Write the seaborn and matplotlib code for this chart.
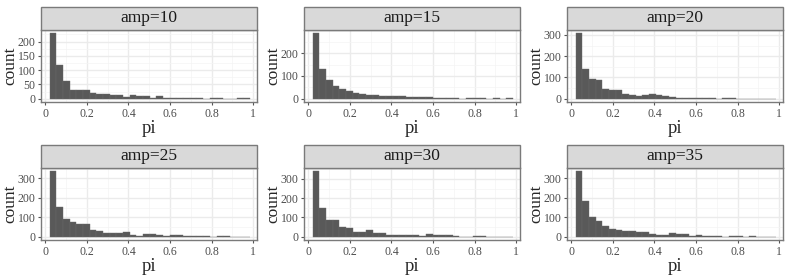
import numpy as np
import pandas as pd
import matplotlib
matplotlib.use("Agg")
import matplotlib.pyplot as plt
from matplotlib.patches import Rectangle
import seaborn as sns

# ---- data ----
panels = ["amp=10", "amp=15", "amp=20", "amp=25", "amp=30", "amp=35"]
bin_edges = list(np.linspace(0.021, 0.984, 31))

counts_amp10 = [229, 119, 62, 31, 31, 31, 21, 17, 16, 14, 12, 7, 12, 10, 8, 4, 8, 1, 2, 2,
                4, 3, 1, 0, 4, 1, 0, 0, 1, 1]
counts_amp15 = [287, 132, 80, 55, 42, 32, 25, 22, 18, 15, 12, 10, 12, 14, 8, 9, 6, 6, 5, 1,
                3, 2, 0, 1, 1, 1, 0, 1, 0, 1]
counts_amp20 = [308, 142, 94, 86, 44, 41, 41, 20, 16, 11, 17, 22, 16, 14, 9, 5, 5, 3, 3, 3,
                2, 1, 2, 3, 1, 1, 1, 1, 0, 0]
counts_amp25 = [337, 155, 89, 77, 63, 63, 36, 29, 20, 17, 19, 22, 10, 5, 12, 12, 7, 5, 9, 9,
                3, 2, 3, 5, 0, 2, 2, 1, 1, 0]
counts_amp30 = [340, 148, 88, 88, 52, 46, 24, 24, 36, 19, 19, 9, 9, 7, 9, 7, 2, 12, 7, 7,
                7, 2, 1, 1, 2, 2, 1, 1, 0, 0]
counts_amp35 = [337, 186, 99, 80, 56, 39, 36, 29, 32, 26, 22, 15, 9, 10, 20, 14, 14, 2, 7, 5,
                3, 2, 1, 2, 2, 1, 2, 1, 1, 0]
all_counts = [counts_amp10, counts_amp15, counts_amp20, counts_amp25, counts_amp30, counts_amp35]

x_ticks = [0, 0.2, 0.4, 0.6, 0.8, 1]
x_ticklabels = ["0", "0.2", "0.4", "0.6", "0.8", "1"]
y_ticks = [[0, 50, 100, 150, 200], [0, 100, 200], [0, 100, 200, 300],
           [0, 100, 200, 300], [0, 100, 200, 300], [0, 100, 200, 300]]

# ---- style ----
sns.set_style("white")
plt.rcParams["font.family"] = ["Liberation Serif", "DejaVu Serif"]

W, H = 789, 276
fig = plt.figure(figsize=(W / 100, H / 100), dpi=100)

col_left = [41, 304, 567]
panel_w = 216
row_top = [30, 168]       # top of plot area (px)
panel_h = 72
strip_h = 23

centers = [(a + b) / 2 for a, b in zip(bin_edges[:-1], bin_edges[1:])]

for i, (name, counts) in enumerate(zip(panels, all_counts)):
    r, c = divmod(i, 3)
    left = col_left[c] / W
    bottom = 1 - (row_top[r] + panel_h) / H
    ax = fig.add_axes([left, bottom, panel_w / W, panel_h / H])
    df = pd.DataFrame({"pi": centers, "count": counts})
    sns.histplot(data=df, x="pi", weights="count", bins=bin_edges, ax=ax,
                 color="#595959", alpha=1, edgecolor="#6a6a6a", linewidth=0.3, zorder=3)
    ymax = max(counts)
    ax.set_ylim(-0.05 * ymax, 1.05 * ymax)
    ax.set_xlim(-0.02, 1.018)
    ax.set_xticks(x_ticks)
    ax.set_xticklabels(x_ticklabels)
    ax.set_yticks(y_ticks[i])
    ax.set_xticks([0.1, 0.3, 0.5, 0.7, 0.9], minor=True)
    yt = y_ticks[i]
    step = yt[1] - yt[0]
    ax.set_yticks([v + step / 2 for v in yt if v + step / 2 < 1.05 * ymax], minor=True)
    ax.grid(True, which="major", color="#EBEBEB", linewidth=1.0, zorder=0)
    ax.grid(True, which="minor", color="#F4F4F4", linewidth=0.5, zorder=0)
    ax.set_axisbelow(True)
    for s in ax.spines.values():
        s.set_color("#7a7a7a")
        s.set_linewidth(1.0)
    ax.tick_params(axis="both", which="major", length=2.5, width=0.8, color="#555555",
                   labelsize=8.5, labelcolor="#4D4D4D", pad=1.5, direction="out",
                   bottom=True, left=True)
    ax.tick_params(axis="both", which="minor", length=0)
    ax.set_xlabel("pi", fontsize=13.5, labelpad=0)
    ax.set_ylabel("count", fontsize=12.5, va="center")
    ax.yaxis.set_label_coords(-0.143, 0.5)
    strip = Rectangle((0, 1), 1, strip_h / panel_h, transform=ax.transAxes,
                      facecolor="#D9D9D9", edgecolor="#7a7a7a", linewidth=1.0,
                      clip_on=False, zorder=5)
    ax.add_patch(strip)
    ax.text(0.5, 1 + (strip_h / 2) / panel_h, name, transform=ax.transAxes,
            ha="center", va="center", fontsize=12.5, color="#1A1A1A", zorder=6)

fig.savefig("out.png", dpi=100, facecolor="white")
